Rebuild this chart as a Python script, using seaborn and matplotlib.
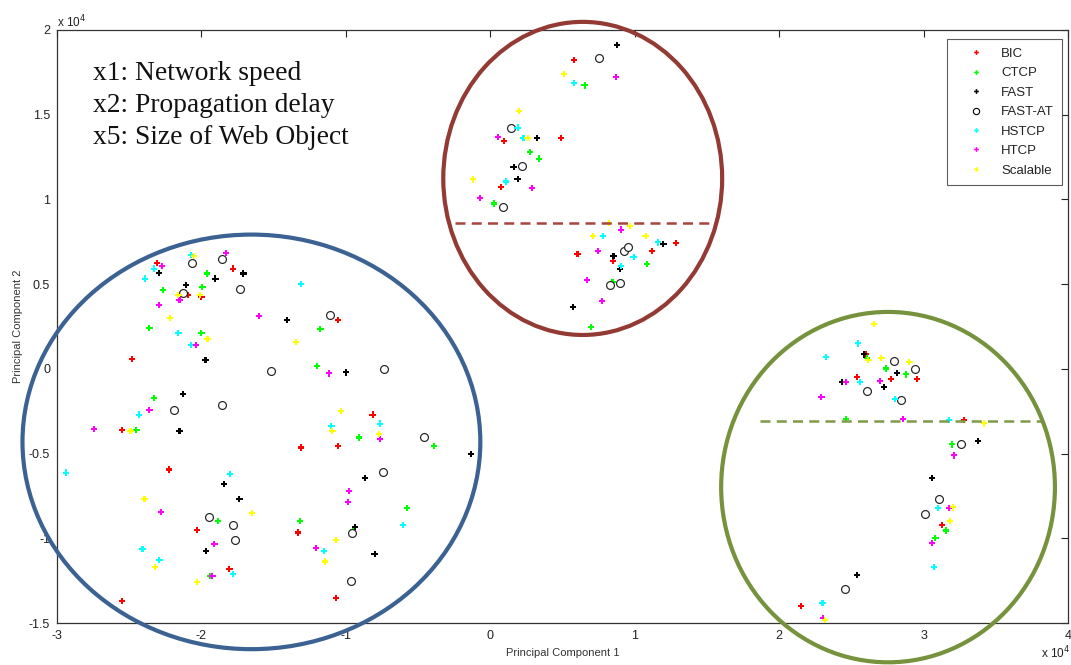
import numpy as np
import pandas as pd
import matplotlib
matplotlib.use("Agg")
import matplotlib.pyplot as plt
import seaborn as sns
from matplotlib.patches import Ellipse
from matplotlib.lines import Line2D
from matplotlib.ticker import FuncFormatter, FixedLocator

# ---------------- data (principal components, in units of 10^4) ----------------
series_names = ["BIC", "CTCP", "FAST", "FAST-AT", "HSTCP", "HTCP", "Scalable"]

bic_x = [-2.307, -1.779, -2.092, -2.000, -1.057, -2.482, -2.552, -1.308, -1.057, -2.224, -2.033,
         -1.331, -1.806, -1.066, -2.552, -0.815, 0.581, 0.097, 0.489, 0.074, 1.285, 0.604, 0.849,
         1.119, 2.600, 2.957, 2.538, 2.773, 3.280, 3.116, 3.128, 2.154]
bic_y = [0.624, 0.592, 0.435, 0.425, 0.290, 0.059, -0.361, -0.464, -0.454, -0.594, -0.951,
         -0.966, -1.179, -1.351, -1.370, -0.270, 1.823, 1.345, 1.363, 1.075, 0.743, 0.680, 0.638,
         0.697, 0.089, -0.059, -0.047, -0.059, -0.304, -0.772, -0.920, -1.400]

ctcp_x = [-1.961, -1.993, -2.265, -2.360, -1.176, -2.000, -1.199, -2.330, -2.450, -0.907, -0.390,
          -1.887, -1.315, -0.948, -1.940, -0.576, 0.653, 0.275, 0.337, 0.023, 1.084, 0.846, 0.697,
          2.611, 2.738, 2.879, 2.462, 3.195, 3.154, 3.082]
ctcp_y = [0.563, 0.484, 0.464, 0.243, 0.237, 0.211, 0.016, -0.172, -0.361, -0.405, -0.454,
          -0.896, -0.896, -0.950, -1.224, -0.819, 1.673, 1.278, 1.241, 0.976, 0.618, 0.514, 0.247,
          0.062, 0.002, -0.033, -0.296, -0.446, -0.954, -0.997]

fast_x = [-2.296, -1.709, -1.903, -2.106, -1.407, -1.972, -0.999, -2.129, -2.152, -1.843, -1.737,
          -0.934, -1.967, -0.134, -0.865, -0.801, 0.877, 0.323, 0.161, 0.189, 1.199, 0.853, 0.898,
          0.570, 2.588, 2.815, 2.438, 2.725, 3.375, 3.059, 3.017, 2.538]
fast_y = [0.565, 0.563, 0.533, 0.494, 0.290, 0.053, -0.021, -0.148, -0.367, -0.681, -0.766,
          -0.932, -1.076, -0.504, -0.646, -1.094, 1.910, 1.363, 1.191, 1.122, 0.737, 0.668, 0.591,
          0.366, 0.085, -0.024, -0.077, -0.108, -0.427, -0.643, -0.849, -1.218]

fastat_x = [-2.062, -1.860, -1.730, -2.131, -1.107, -1.516, -1.860, -2.187, -0.736, -0.457, -0.743,
            -1.945, -1.781, -1.767, -0.955, -0.964, 0.756, 0.140, 0.219, 0.090, 0.927, 0.955, 0.826,
            0.900, 2.794, 2.943, 2.609, 2.846, 3.257, 3.109, 3.010, 2.457]
fastat_y = [0.624, 0.648, 0.470, 0.450, 0.318, -0.015, -0.213, -0.245, 0.000, -0.403, -0.608,
            -0.874, -0.924, -1.013, -0.967, -1.255, 1.833, 1.424, 1.197, 0.956, 0.697, 0.721, 0.496,
            0.504, 0.046, 0.002, -0.128, -0.185, -0.446, -0.766, -0.855, -1.297]

hstcp_x = [-2.071, -2.330, -2.388, -1.308, -2.159, -2.071, -2.431, -1.100, -2.939, -1.801, -2.408,
           -2.291, -1.779, -1.149, -0.763, -0.607, 0.581, 0.189, 0.230, 0.111, 0.782, 1.161, 0.992,
           0.907, 2.545, 2.327, 2.558, 2.801, 3.174, 3.100, 3.073, 2.300]
hstcp_y = [0.674, 0.592, 0.533, 0.500, 0.211, 0.139, -0.270, -0.335, -0.612, -0.620, -1.062,
           -1.126, -1.212, -1.076, -0.323, -0.922, 1.687, 1.424, 1.363, 1.106, 0.786, 0.746, 0.658,
           0.607, 0.150, 0.071, -0.077, -0.178, -0.304, -0.823, -1.169, -1.384]

htcp_x = [-1.832, -2.272, -2.152, -2.296, -1.599, -2.035, -1.114, -2.360, -2.745, -2.279, -1.910,
          -1.924, -0.976, -0.983, -1.206, -0.763, 0.870, 0.051, 0.291, -0.069, 0.905, 0.747, 0.669,
          0.773, 2.462, 2.701, 2.293, 2.858, 3.209, 3.179, 3.059, 2.304]
htcp_y = [0.685, 0.607, 0.407, 0.377, 0.310, 0.139, -0.027, -0.245, -0.355, -0.843, -1.033,
          -1.224, -0.723, -0.786, -1.058, -0.415, 1.722, 1.368, 1.069, 1.007, 0.822, 0.695, 0.524,
          0.399, -0.077, -0.073, -0.164, -0.296, -0.511, -0.823, -1.027, -1.469]

scal_x = [-2.053, -2.159, -2.012, -2.215, -1.958, -1.347, -2.491, -1.036, -1.093, -0.770, -2.394,
          -1.649, -2.323, -2.033, -1.066, -1.142, 0.512, 0.201, 0.258, -0.120, 0.819, 0.969, 0.711,
          1.075, 2.657, 2.618, 2.708, 2.902, 3.419, 3.204, 3.181, 2.320]
scal_y = [0.668, 0.437, 0.437, 0.302, 0.176, 0.158, -0.367, -0.249, -0.367, -0.385, -0.766,
          -0.853, -1.169, -1.259, -1.009, -1.137, 1.738, 1.521, 1.363, 1.118, 0.861, 0.841, 0.784,
          0.784, 0.267, 0.050, 0.062, 0.041, -0.322, -0.818, -0.898, -1.481]

x_ticks = [-3, -2, -1, 0, 1, 2, 3, 4]
y_ticks = [-1.5, -1, -0.5, 0, 0.5, 1, 1.5, 2]

annotation_lines = ["x1: Network speed", "x2: Propagation delay", "x5: Size of Web Object"]

# ---------------- build table ----------------
xs = [bic_x, ctcp_x, fast_x, fastat_x, hstcp_x, htcp_x, scal_x]
ys = [bic_y, ctcp_y, fast_y, fastat_y, hstcp_y, htcp_y, scal_y]
frames = []
for name, xv, yv in zip(series_names, xs, ys):
    frames.append(pd.DataFrame({"pc1": xv, "pc2": yv, "protocol": name}))
df = pd.concat(frames, ignore_index=True)

colors = {"BIC": "#ff0000", "CTCP": "#00ff00", "FAST": "#000000", "FAST-AT": "#000000",
          "HSTCP": "#00ffff", "HTCP": "#ff00ff", "Scalable": "#ffff00"}

# ---------------- style ----------------
sns.set_theme(style="white")
plt.rcParams["font.family"] = ["Liberation Sans", "DejaVu Sans"]
plt.rcParams["axes.unicode_minus"] = False

fig = plt.figure(figsize=(10.71, 6.65), dpi=100)
ax = fig.add_axes([57 / 1071, 42 / 665, 1011 / 1071, 593 / 665])

for name in series_names:
    sub = df[df["protocol"] == name]
    if name == "FAST-AT":
        sns.scatterplot(data=sub, x="pc1", y="pc2", ax=ax, marker="o", s=32,
                        facecolor="white", edgecolor="#222222", linewidth=0.85, legend=False, zorder=3)
    else:
        sns.scatterplot(data=sub, x="pc1", y="pc2", ax=ax, marker="P", s=20,
                        color=colors[name], edgecolor="none", linewidth=0, legend=False, zorder=3)

ax.set_xlim(-3, 4)
ax.set_ylim(-1.5, 2)
ax.xaxis.set_major_locator(FixedLocator(x_ticks))
ax.yaxis.set_major_locator(FixedLocator(y_ticks))
fmt = FuncFormatter(lambda v, p: f"{v:g}")
ax.xaxis.set_major_formatter(fmt)
ax.yaxis.set_major_formatter(fmt)
ax.tick_params(direction="in", length=5, width=0.8, top=True, right=True,
               labelsize=9, colors="#222222", pad=5)
for sp in ax.spines.values():
    sp.set_color("#333333")
    sp.set_linewidth(0.9)
    sp.set_visible(True)

ax.set_xlabel("Principal Component 1", fontsize=8, color="#333333", labelpad=4)
ax.set_ylabel("Principal Component 2", fontsize=8, color="#333333", labelpad=4)

ax.text(0.0, 1.0, r"x 10$^4$", transform=ax.transAxes, ha="left", va="bottom",
        fontsize=8.5, color="#222222")
fig.text(0.999, 0.006, r"x 10$^4$", ha="right", va="bottom", fontsize=8.5, color="#222222")

# annotation text
ax.text(0.036, 0.947, "\n".join(annotation_lines), transform=ax.transAxes, ha="left", va="top",
        fontsize=19.8, family=["Liberation Serif", "DejaVu Serif"], linespacing=1.35, color="#111111")

# cluster highlight shapes
ell_kw = dict(fill=False, clip_on=False, zorder=5, linewidth=3.0)
ax.add_patch(Ellipse((-1.654, -0.431), 3.17, 2.447, edgecolor="#3b6292", **ell_kw))
ax.add_patch(Ellipse((0.640, 1.124), 1.931, 1.848, edgecolor="#923a33", **ell_kw))
ax.add_patch(Ellipse((2.754, -0.698), 2.311, 2.068, edgecolor="#76923c", **ell_kw))
ax.plot([-0.242, 1.536], [0.861, 0.861], ls=(0, (4, 2.5)), lw=1.8, color="#a9443e",
        zorder=4, clip_on=False)
ax.plot([1.868, 3.827], [-0.306, -0.306], ls=(0, (4, 2.5)), lw=1.8, color="#7f9b45",
        zorder=4, clip_on=False)

# legend
handles = []
for name in series_names:
    if name == "FAST-AT":
        h = Line2D([], [], marker="o", ls="none", markersize=4.5, markerfacecolor="white",
                   markeredgecolor="black", markeredgewidth=0.8)
    else:
        h = Line2D([], [], marker="P", ls="none", markersize=3.4, markerfacecolor=colors[name],
                   markeredgecolor="none")
    handles.append(h)
leg = ax.legend(handles, series_names, loc="upper right", bbox_to_anchor=(0.994, 0.984),
                fontsize=9.5, frameon=True, fancybox=False, handlelength=3.2, handletextpad=0.3,
                labelspacing=0.55, borderpad=0.6, borderaxespad=0)
leg.get_frame().set_edgecolor("#333333")
leg.get_frame().set_linewidth(0.8)
for t in leg.get_texts():
    t.set_color("#222222")

fig.savefig("out.png", dpi=100)
